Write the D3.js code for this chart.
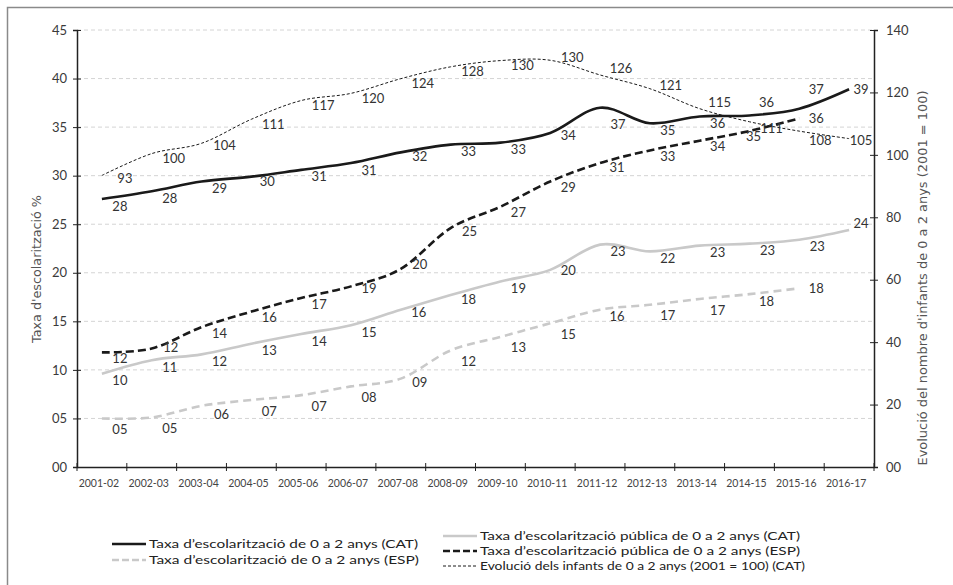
<!DOCTYPE html>
<html>
<head>
<meta charset="utf-8">
<script src="https://cdn.jsdelivr.net/npm/d3@7"></script>
<style>
  html, body { margin: 0; padding: 0; background: #fff; }
  svg { display: block; }
  .num { font-family: Lato, "Open Sans", sans-serif; }
  .leg { font-family: Lato, "Open Sans", sans-serif; }
</style>
</head>
<body>
<svg id="chart" width="953" height="585"></svg>
<script>
// ---------------- data ----------------
const categories = ["2001-02","2002-03","2003-04","2004-05","2005-06","2006-07","2007-08","2008-09",
                    "2009-10","2010-11","2011-12","2012-13","2013-14","2014-15","2015-16","2016-17"];
const catTotal   = [27.6, 28.4, 29.4, 29.9, 30.6, 31.3, 32.4, 33.2, 33.4, 34.4, 37.0, 35.4, 36.1, 36.2, 36.9, 38.9];
const catPublic  = [9.6, 11.0, 11.6, 12.7, 13.7, 14.6, 16.2, 17.7, 19.1, 20.3, 22.9, 22.2, 22.8, 23.0, 23.4, 24.4];
const espTotal   = [5.0, 5.1, 6.3, 6.9, 7.4, 8.3, 9.1, 12.0, 13.4, 14.8, 16.2, 16.7, 17.3, 17.8, 18.4];
const espPublic  = [11.8, 12.2, 14.4, 16.0, 17.4, 18.6, 20.4, 24.6, 26.8, 29.4, 31.3, 32.6, 33.6, 34.6, 35.9];
const childIndex = [93.4, 100.4, 103.7, 111.4, 117.4, 119.7, 124.4, 128.2, 130.2, 130.3, 125.6, 121.2, 114.8, 110.6, 107.6, 105.2];
const leftTicks  = [0, 5, 10, 15, 20, 25, 30, 35, 40, 45];
const rightTicks = [0, 20, 40, 60, 80, 100, 120, 140];
const leftTitle  = "Taxa d'escolarització %";
const rightTitle = "Evolució del nombre d'infants de 0 a 2 anys (2001 = 100)";
const legendLabels = {
  catTotal:  "Taxa d’escolarització de 0 a 2 anys (CAT)",
  espTotal:  "Taxa d’escolarització de 0 a 2 anys (ESP)",
  catPublic: "Taxa d’escolarització pública de 0 a 2 anys (CAT)",
  espPublic: "Taxa d’escolarització pública de 0 a 2 anys (ESP)",
  childIndex:"Evolució dels infants de 0 a 2 anys (2001 = 100) (CAT)"
};

// ---------------- layout / style ----------------
const svg = d3.select("#chart");
const L = 77, R = 874, T = 30, B = 467;

// frame
svg.append("rect").attr("x", 7.5).attr("y", 7.5).attr("width", 980).attr("height", 620)
  .attr("fill", "none").attr("stroke", "#8a8a8a").attr("stroke-width", 1.5);

const x = d3.scaleBand().domain(categories).range([L, R]).padding(0);
const cx = c => x(c) + x.bandwidth() / 2;
const yL = d3.scaleLinear().domain([0, 45]).range([B, T]);
const yR = d3.scaleLinear().domain([0, 140]).range([B, T]);
const fmt2 = d3.format("02d");

// grid
svg.append("g").selectAll("line").data(leftTicks.filter(d => d > 0)).join("line")
  .attr("x1", L).attr("x2", R).attr("y1", d => yL(d)).attr("y2", d => yL(d))
  .attr("stroke", "#d4d4d4").attr("stroke-width", 1).attr("stroke-dasharray", "4,3");

// left axis
const gL = svg.append("g").attr("transform", `translate(${L},0)`)
  .call(d3.axisLeft(yL).tickValues(leftTicks).tickFormat(fmt2).tickSize(4).tickPadding(6));
gL.selectAll(".tick line").attr("x1", 4).attr("stroke", "#222");
gL.select(".domain").attr("stroke", "#222").attr("stroke-width", 1.5);
gL.selectAll("text").attr("class", "num").attr("font-size", 13).attr("fill", "#3a3a3a");

// right axis
const gR = svg.append("g").attr("transform", `translate(${R},0)`)
  .call(d3.axisRight(yR).tickValues(rightTicks).tickFormat(fmt2).tickSize(4).tickPadding(8));
gR.selectAll(".tick line").attr("x1", -4).attr("stroke", "#222");
gR.select(".domain").attr("stroke", "#222").attr("stroke-width", 1.5);
gR.selectAll("text").attr("class", "num").attr("font-size", 13).attr("fill", "#3a3a3a");

// bottom axis (labels at band centres, ticks at band edges)
const gB = svg.append("g").attr("transform", `translate(0,${B})`)
  .call(d3.axisBottom(x).tickSize(0).tickPadding(13));
gB.select(".domain").attr("stroke", "#222").attr("stroke-width", 1.5);
gB.selectAll("text").attr("class", "num").attr("font-size", 10.5).attr("fill", "#444")
  .attr("dx", -3);
const edges = categories.map(c => x(c)).concat([R]);
gB.selectAll("line.edge").data(edges).join("line").attr("class", "edge")
  .attr("x1", d => d).attr("x2", d => d).attr("y1", -4).attr("y2", 4)
  .attr("stroke", "#222").attr("stroke-width", 1);

// axis titles
svg.append("text").attr("transform", `translate(41,${269}) rotate(-90)`)
  .attr("text-anchor", "middle").attr("font-family", "DejaVu Sans, sans-serif")
  .attr("font-size", 11.5).attr("fill", "#555")
  .attr("textLength", 148).attr("lengthAdjust", "spacingAndGlyphs").text(leftTitle);
svg.append("text").attr("transform", `translate(927,${278}) rotate(-90)`)
  .attr("text-anchor", "middle").attr("font-family", "DejaVu Sans, sans-serif")
  .attr("font-size", 11.5).attr("fill", "#555")
  .attr("textLength", 375).attr("lengthAdjust", "spacingAndGlyphs").text(rightTitle);

// series styles
const series = [
  {key: "espTotal",   values: espTotal,   y: yL, color: "#c9c9c9", width: 2.6, dash: "8,5", dx: 18, dy: 11},
  {key: "catPublic",  values: catPublic,  y: yL, color: "#c9c9c9", width: 2.6, dash: null,  dx: 18, dy: 7},
  {key: "espPublic",  values: espPublic,  y: yL, color: "#1a1a1a", width: 2.6, dash: "8,4", dx: 18, dy: 6},
  {key: "childIndex", values: childIndex, y: yR, color: "#1a1a1a", width: 1,   dash: "3,2", dx: 22, dy: 5, fmt: d3.format("d")},
  {key: "catTotal",   values: catTotal,   y: yL, color: "#1a1a1a", width: 2.6, dash: null,  dx: 18, dy: 7}
];
// label nudges (exceptions to default offset): [dx, dy]
const nudges = {
  catTotal:   {3: [16, 5], 6: [19, 4], 9: [18, 3], 10: [18, 17], 13: [17, -13], 14: [17, -19], 15: [12, 0]},
  childIndex: {0: [23, 3], 2: [23, 2], 9: [22, -3], 10: [21, -6], 11: [21, -3], 12: [20, -6], 13: [22, 7], 14: [21, 9], 15: [12, 2]},
  catPublic:  {6: [18, 3], 7: [18, 4], 9: [18, 1], 15: [12, -7]},
  espPublic:  {1: [19, -1], 5: [18, 2], 6: [19, -4], 7: [19, 3], 10: [17, 4], 13: [4, 5], 14: [17, 0]},
  espTotal:   {6: [19, 4], 2: [20, 9], 10: [17, 7], 13: [17, 7], 14: [17, 0]}
};

const lineGen = (ys) => d3.line()
  .x((d, i) => cx(categories[i]))
  .y(d => ys(d))
  .curve(d3.curveCatmullRom.alpha(0));

const gLines = svg.append("g");
series.forEach(s => {
  gLines.append("path").datum(s.values)
    .attr("d", lineGen(s.y))
    .attr("fill", "none").attr("stroke", s.color).attr("stroke-width", s.width)
    .attr("stroke-dasharray", s.dash).attr("stroke-linecap", "butt");
});

const gLab = svg.append("g");
series.forEach(s => {
  const f = s.fmt || fmt2;
  const nd = nudges[s.key] || {};
  gLab.selectAll(null).data(s.values).join("text")
    .attr("class", "num")
    .attr("x", (d, i) => cx(categories[i]) + (nd[i] ? nd[i][0] : s.dx))
    .attr("y", (d, i) => s.y(d) + (nd[i] ? nd[i][1] : s.dy))
    .attr("dy", "0.35em")
    .attr("text-anchor", "middle").attr("font-size", 13).attr("fill", "#333")
    .text(d => f(d));
});

// legend
const legend = [
  {key: "catTotal",   x: 112, y: 544, w: 269, color: "#1a1a1a", width: 2.6, dash: null},
  {key: "espTotal",   x: 112, y: 560, w: 270, color: "#c9c9c9", width: 2.6, dash: "7,3"},
  {key: "catPublic",  x: 443, y: 536, w: 320, color: "#c9c9c9", width: 2.6, dash: null},
  {key: "espPublic",  x: 443, y: 551, w: 320, color: "#1a1a1a", width: 2.6, dash: "7,3"},
  {key: "childIndex", x: 443, y: 566, w: 325, color: "#1a1a1a", width: 1,   dash: "3,2"}
];
const gLeg = svg.append("g");
legend.forEach(l => {
  gLeg.append("line").attr("x1", l.x).attr("x2", l.x + 34).attr("y1", l.y).attr("y2", l.y)
    .attr("stroke", l.color).attr("stroke-width", l.width).attr("stroke-dasharray", l.dash);
  gLeg.append("text").attr("class", "leg").attr("x", l.x + 37).attr("y", l.y).attr("dy", "0.35em")
    .attr("font-size", 12).attr("fill", "#222")
    .attr("textLength", l.w).attr("lengthAdjust", "spacingAndGlyphs")
    .text(legendLabels[l.key]);
});
</script>
</body>
</html>
